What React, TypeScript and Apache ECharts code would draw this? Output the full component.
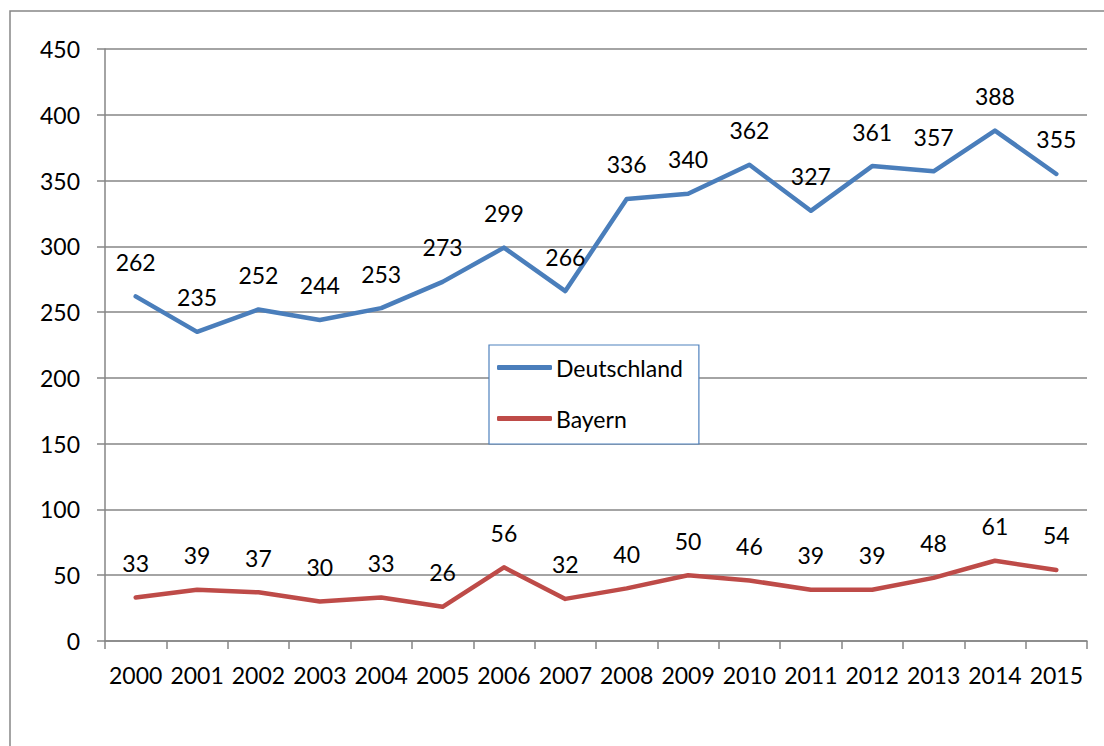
import React, { useEffect, useRef } from "react";
import * as echarts from "echarts";

const years = ["2000","2001","2002","2003","2004","2005","2006","2007","2008","2009","2010","2011","2012","2013","2014","2015"];
const deutschland = [262,235,252,244,253,273,299,266,336,340,362,327,361,357,388,355];
const bayern = [33,39,37,30,33,26,56,32,40,50,46,39,39,48,61,54];

const FONT = "Lato";
const FS = 23;

export default function App() {
  const ref = useRef<HTMLDivElement>(null);
  useEffect(() => {
    const chart = echarts.init(ref.current!, null, { renderer: "svg" });
    const label = {
      show: true,
      position: "top" as const,
      distance: 23,
      color: "#000",
      fontSize: FS,
      fontFamily: FONT,
    };
    chart.setOption({
      animation: false,
      backgroundColor: "#fff",
      textStyle: { fontFamily: FONT },
      graphic: [
        {
          type: "rect",
          shape: { x: 10, y: 11, width: 1200, height: 800 },
          style: { fill: "none", stroke: "#868686", lineWidth: 1.5 },
          silent: true,
          z: -10,
        },
      ],
      grid: { left: 105, right: 17, top: 49, bottom: 105, containLabel: false },
      legend: {
        left: 489,
        top: 345,
        orient: "vertical",
        backgroundColor: "#fff",
        borderColor: "#4f81bd",
        borderWidth: 1.2,
        padding: [11, 16, 14, 8],
        itemGap: 28,
        itemWidth: 55,
        itemHeight: 5,
        itemStyle: { borderWidth: 0, opacity: 1 },
        icon: "roundRect",
        textStyle: { fontSize: FS, color: "#000", fontFamily: FONT, padding: [0, 0, 0, -1] },
        data: ["Deutschland", "Bayern"],
      },
      xAxis: {
        type: "category",
        data: years,
        boundaryGap: true,
        axisLine: { lineStyle: { color: "#868686", width: 1.5 } },
        axisTick: { show: true, length: 8, interval: 0, lineStyle: { color: "#868686", width: 1.5 } },
        axisLabel: { color: "#000", fontSize: FS, fontFamily: FONT, margin: 22, interval: 0 },
      },
      yAxis: {
        type: "value",
        min: 0,
        max: 450,
        interval: 50,
        axisLine: { show: true, lineStyle: { color: "#868686", width: 1.5 } },
        axisTick: { show: true, length: 8, lineStyle: { color: "#868686", width: 1.5 } },
        axisLabel: { color: "#000", fontSize: FS, fontFamily: FONT, margin: 25 },
        splitLine: { show: true, lineStyle: { color: "#868686", width: 1.5 } },
      },
      series: [
        {
          name: "Deutschland",
          type: "line",
          data: deutschland,
          symbol: "circle",
          symbolSize: 0.1,
          showSymbol: true,
          lineStyle: { color: "#4a7ebb", width: 4.5, cap: "round", join: "round" },
          itemStyle: { color: "#4a7ebb" },
          label,
        },
        {
          name: "Bayern",
          type: "line",
          data: bayern,
          symbol: "circle",
          symbolSize: 0.1,
          showSymbol: true,
          lineStyle: { color: "#be4b48", width: 4.5, cap: "round", join: "round" },
          itemStyle: { color: "#be4b48" },
          label,
        },
      ],
    });
    return () => chart.dispose();
  }, []);
  return (
    <div
      ref={ref}
      style={{ position: "fixed", left: 0, top: 0, width: 1104, height: 746 }}
    />
  );
}
